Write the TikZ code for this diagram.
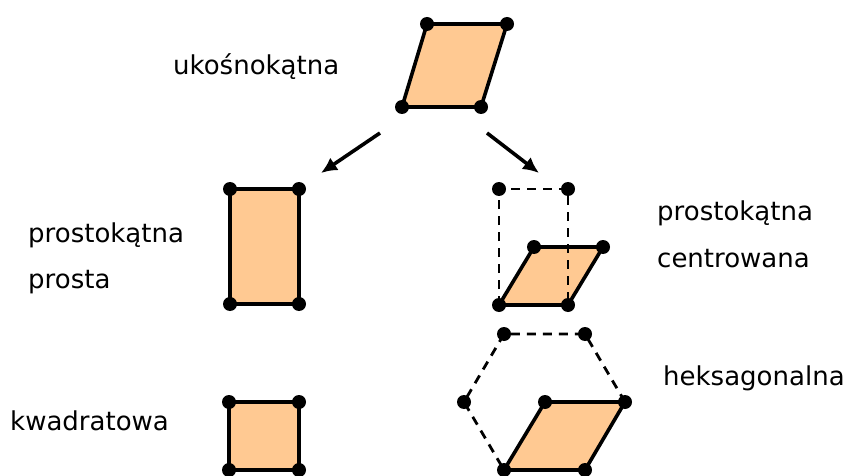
\documentclass[tikz,border=0pt]{standalone}
\usepackage{fontspec}
\setmainfont{DejaVu Sans}
\usetikzlibrary{arrows.meta}
\definecolor{cellfill}{RGB}{255,201,146}
\tikzset{>=Latex}
\tikzset{
	cell/.style={draw, line width=3.6pt, fill=cellfill, line join=round},
	guide/.style={draw, line width=2.8pt, dash pattern=on 9pt off 7pt},
	knot/.style={circle, fill, inner sep=0pt, minimum size=14pt},
	lbl/.style={anchor=base west, inner sep=0pt, font=\fontsize{26}{30}\selectfont},
	split/.style={->, line width=3.6pt, >={Latex[length=16pt,width=15pt]}}
}

\begin{document}
\begin{tikzpicture}[x=1pt, y=-1pt]
	\useasboundingbox (0,0) rectangle (849,476);

	% ukosnokatna
	\coordinate (t1) at (427,24);  \coordinate (t2) at (507,24);
	\coordinate (t3) at (481,107); \coordinate (t4) at (402,107);
	\draw[cell] (t1) -- (t2) -- (t3) -- (t4) -- cycle;
	\node[lbl] (oblique) at (173,75) {ukośnokątna};

	% arrows
	\coordinate (sl) at (380,133); \coordinate (el) at (321,173);
	\coordinate (sr) at (487,133); \coordinate (er) at (539,173);
	\draw[split] (sl) -- (el);
	\draw[split] (sr) -- (er);

	% prostokatna prosta
	\coordinate (r1) at (230,189); \coordinate (r2) at (299,189);
	\coordinate (r3) at (299,304); \coordinate (r4) at (230,304);
	\draw[cell] (r1) -- (r2) -- (r3) -- (r4) -- cycle;
	\node[lbl] (rect1) at (28,242) {prostokątna};
	\node[lbl] (rect2) at (28,288) {prosta};

	% prostokatna centrowana
	\coordinate (c1) at (499,189); \coordinate (c2) at (568,189);
	\coordinate (c3) at (534,247); \coordinate (c4) at (603,247);
	\coordinate (c5) at (568,305); \coordinate (c6) at (499,305);
	\draw[cell] (c6) -- (c3) -- (c4) -- (c5) -- cycle;
	\draw[guide] (c6) -- (c1) -- (c2) -- (c5);
	\node[lbl] (centr1) at (657,220) {prostokątna};
	\node[lbl] (centr2) at (657,267) {centrowana};

	% heksagonalna
	\coordinate (h1) at (504,334); \coordinate (h2) at (585,334);
	\coordinate (h3) at (625,402); \coordinate (h4) at (585,470);
	\coordinate (h5) at (504,470); \coordinate (h6) at (464,402);
	\coordinate (h7) at (545,402);
	\draw[cell] (h5) -- (h7) -- (h3) -- (h4) -- cycle;
	\draw[guide] (h3) -- (h2) -- (h1) -- (h6) -- (h5);
	\node[lbl] (hex) at (663,385) {heksagonalna};

	% kwadratowa
	\coordinate (q1) at (229,402); \coordinate (q2) at (299,402);
	\coordinate (q3) at (299,470); \coordinate (q4) at (229,470);
	\draw[cell] (q1) -- (q2) -- (q3) -- (q4) -- cycle;
	\node[lbl] (square) at (10,430) {kwadratowa};

	% lattice points
	\foreach \p in {t1,t2,t3,t4,r1,r2,r3,r4,c1,c2,c3,c4,c5,c6,
			h1,h2,h3,h4,h5,h6,h7,q1,q2,q3,q4}
		\node[knot] (k-\p) at (\p) {};
\end{tikzpicture}
\end{document}
